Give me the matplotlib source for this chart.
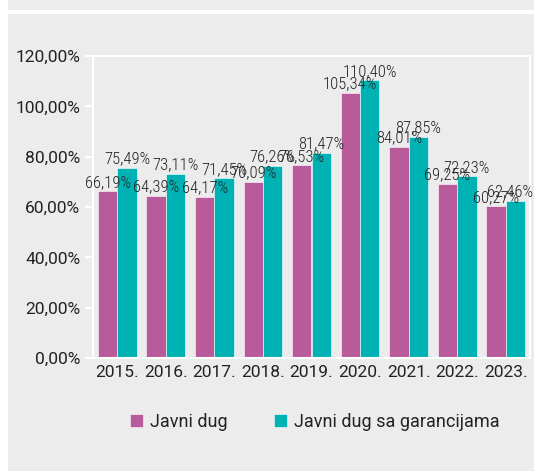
import matplotlib
matplotlib.use("Agg")
import matplotlib.pyplot as plt
from matplotlib.patches import Rectangle
from matplotlib import font_manager

# data
years = ['2015.', '2016.', '2017.', '2018.', '2019.', '2020.', '2021.', '2022.', '2023.']
javni_dug = [66.19, 64.39, 64.17, 70.09, 76.53, 105.34, 84.01, 69.25, 60.27]
javni_dug_garancije = [75.49, 73.11, 71.45, 76.26, 81.47, 110.40, 87.85, 72.23, 62.46]
series_names = ['Javni dug', 'Javni dug sa garancijama']

pink = '#B95A9B'
teal = '#00B2B4'
bg = '#ECECEC'
txt = '#222222'

# pick a narrow font for the value labels if one is installed
fonts = font_manager.fontManager.ttflist
names = set(f.name for f in fonts)
label_font = dict(family='Roboto', fontstretch='normal', fontsize=10)
for cand in ['Roboto Condensed', 'Liberation Sans Narrow', 'Open Sans Condensed']:
    if cand in names:
        label_font = dict(family=cand, fontstretch='normal', weight='light', fontsize=12)
        break
else:
    if any(f.name == 'DejaVu Sans' and f.stretch == 'condensed' for f in fonts):
        label_font = dict(family='DejaVu Sans', fontstretch='condensed', fontsize=11)

# font for ticks and legend
tick_font = dict(family='Roboto', weight='normal')

def pct(v):
    return ('%.2f%%' % v).replace('.', ',')

fig = plt.figure(figsize=(5.34, 4.71), dpi=100, facecolor='white')
# gray panels behind the chart
fig.patches.append(Rectangle((8 / 534, 0), 1, 457.5 / 471, transform=fig.transFigure,
                             facecolor=bg, edgecolor='none', zorder=-10))
fig.patches.append(Rectangle((8 / 534, 461 / 471), 1, 1, transform=fig.transFigure,
                             facecolor=bg, edgecolor='none', zorder=-10))

ax = fig.add_axes([93 / 534, 1 - 358 / 471, 437 / 534, 302 / 471])
ax.set_facecolor(bg)

x = list(range(len(years)))
w = 0.4
b1 = ax.bar([i - w / 2 for i in x], javni_dug, w, color=pink, edgecolor='white',
            linewidth=0.4, label=series_names[0])
b2 = ax.bar([i + w / 2 for i in x], javni_dug_garancije, w, color=teal, edgecolor='white',
            linewidth=0.4, label=series_names[1])

for bars, vals in ((b1, javni_dug), (b2, javni_dug_garancije)):
    for k, (b, v) in enumerate(zip(bars, vals)):
        dx = -4 if (bars is b2 and k == len(vals) - 1) else 0  # keep last label inside
        ax.annotate(pct(v), (b.get_x() + b.get_width() / 2, v), xytext=(dx, 1),
                    textcoords='offset points', ha='center', va='bottom',
                    color=txt, **label_font)

ax.set_xlim(-0.5, len(years) - 0.5)
ax.set_ylim(0, 120)
ax.set_yticks(range(0, 121, 20))
ax.set_yticklabels([pct(v) for v in range(0, 121, 20)], fontsize=12.5, color=txt, **tick_font)
ax.set_xticks(x)
ax.set_xticklabels(years, fontsize=12.5, color=txt, **tick_font)
ax.tick_params(axis='x', length=0, pad=5)
ax.tick_params(axis='y', length=6, width=1.5, color='white', pad=3)
for s in ax.spines.values():
    s.set_color('white')
    s.set_linewidth(1.5)

fig.legend(handles=[b1, b2], loc='center', bbox_to_anchor=(315 / 534, 1 - 422 / 471),
           ncol=2, frameon=False, prop=dict(size=13, **tick_font), handlelength=0.7,
           handleheight=0.7, handletextpad=0.4, columnspacing=2.6, labelcolor=txt)

fig.savefig('out.png', dpi=100, facecolor='white')
